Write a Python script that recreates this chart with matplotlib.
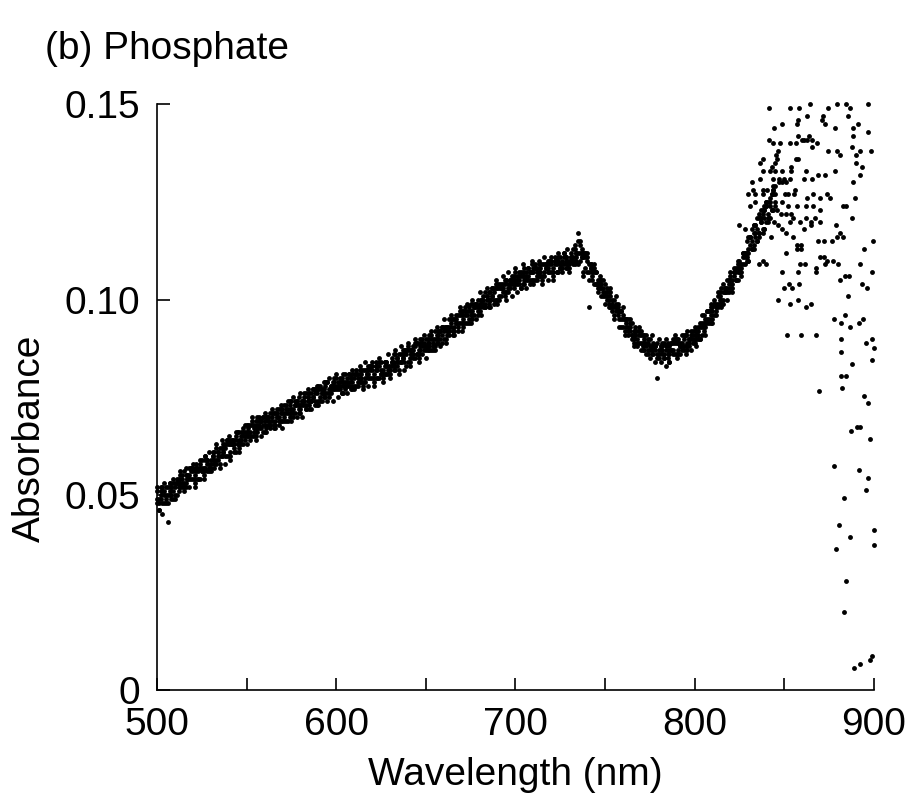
import numpy as np
import matplotlib
matplotlib.use("Agg")
from matplotlib import pyplot as plt
from matplotlib.ticker import MultipleLocator

# Phosphate absorbance spectrum, four scans
# wavelength grid 500..845 nm, step 1 nm; absorbance in units of 0.001
wl_start = 500
scan_a = [
    49, 46, 49, 52, 50, 48, 52, 51, 50, 53,
    53, 50, 54, 53, 55, 53, 52, 55, 55, 54,
    54, 55, 58, 54, 57, 57, 56, 60, 59, 56,
    57, 60, 59, 59, 61, 62, 60, 61, 63, 63,
    64, 61, 63, 64, 61, 66, 64, 63, 66, 65,
    66, 67, 65, 69, 67, 65, 68, 68, 67, 70,
    69, 67, 70, 69, 71, 68, 68, 71, 70, 69,
    69, 71, 73, 69, 73, 72, 71, 74, 74, 71,
    71, 74, 74, 73, 75, 76, 74, 75, 77, 76,
    78, 75, 76, 77, 75, 79, 77, 76, 78, 78,
    78, 79, 77, 80, 78, 77, 80, 79, 78, 81,
    81, 78, 81, 80, 82, 79, 79, 82, 81, 80,
    80, 81, 84, 80, 83, 82, 81, 84, 84, 81,
    81, 84, 84, 83, 85, 86, 84, 85, 87, 86,
    88, 85, 86, 88, 85, 89, 87, 87, 89, 88,
    88, 89, 88, 91, 89, 88, 91, 90, 90, 93,
    93, 90, 93, 93, 95, 92, 92, 95, 94, 94,
    94, 95, 98, 94, 97, 97, 96, 99, 99, 96,
    97, 100, 99, 99, 101, 102, 100, 101, 103, 103,
    104, 101, 103, 104, 101, 105, 104, 103, 105, 104,
    105, 106, 104, 107, 106, 104, 107, 106, 105, 109,
    108, 105, 108, 107, 109, 106, 106, 109, 108, 107,
    107, 108, 111, 107, 110, 109, 109, 112, 111, 108,
    108, 111, 111, 110, 112, 117, 110, 111, 112, 111,
    111, 107, 108, 108, 104, 107, 105, 103, 104, 102,
    102, 102, 99, 102, 99, 96, 99, 97, 95, 97,
    96, 92, 95, 93, 94, 91, 89, 92, 90, 89,
    89, 89, 91, 86, 89, 88, 87, 89, 88, 85,
    85, 88, 87, 86, 83, 89, 86, 87, 90, 89,
    90, 87, 88, 89, 87, 91, 89, 88, 91, 90,
    90, 92, 90, 94, 93, 92, 95, 95, 95, 98,
    98, 96, 99, 99, 102, 100, 99, 103, 103, 102,
    103, 105, 108, 105, 108, 108, 108, 112, 112, 110,
    110, 116, 115, 114, 119, 121, 117, 120, 123, 123,
    124, 121, 124, 127, 123, 129,
]
scan_b = [
    48, 49, 52, 45, 51, 50, 50, 53, 52, 49,
    50, 53, 53, 52, 54, 56, 53, 54, 57, 56,
    57, 54, 56, 57, 54, 59, 57, 57, 59, 58,
    59, 60, 58, 62, 60, 58, 62, 61, 60, 64,
    63, 60, 64, 63, 65, 63, 62, 65, 65, 64,
    65, 66, 68, 65, 68, 67, 66, 70, 69, 66,
    66, 70, 69, 68, 70, 71, 69, 70, 72, 71,
    72, 70, 71, 72, 70, 74, 72, 71, 74, 73,
    73, 74, 73, 76, 74, 72, 76, 75, 74, 77,
    77, 74, 77, 76, 79, 76, 75, 78, 77, 77,
    77, 78, 80, 76, 79, 79, 78, 81, 80, 77,
    78, 81, 80, 79, 81, 82, 80, 81, 83, 82,
    83, 80, 82, 83, 80, 84, 82, 81, 84, 83,
    83, 84, 83, 86, 84, 82, 86, 85, 84, 87,
    87, 84, 87, 87, 89, 86, 85, 89, 88, 87,
    87, 88, 91, 87, 90, 90, 89, 92, 92, 89,
    90, 93, 92, 92, 94, 95, 93, 94, 96, 96,
    97, 94, 96, 97, 94, 99, 97, 96, 99, 98,
    99, 100, 98, 102, 100, 98, 102, 101, 100, 104,
    103, 100, 104, 103, 105, 102, 102, 105, 104, 103,
    104, 105, 107, 103, 107, 106, 105, 108, 107, 105,
    105, 108, 107, 106, 108, 109, 107, 108, 110, 109,
    110, 107, 109, 110, 107, 111, 110, 109, 111, 110,
    110, 111, 110, 113, 111, 115, 112, 111, 106, 112,
    110, 98, 109, 107, 108, 104, 103, 105, 103, 101,
    101, 101, 102, 98, 100, 98, 97, 99, 97, 93,
    93, 95, 94, 92, 93, 94, 90, 91, 92, 91,
    92, 88, 89, 89, 86, 90, 88, 86, 88, 80,
    87, 88, 86, 89, 87, 85, 88, 87, 87, 90,
    89, 86, 89, 88, 91, 88, 87, 90, 90, 89,
    89, 91, 93, 90, 94, 94, 93, 97, 97, 94,
    95, 99, 98, 98, 101, 103, 100, 102, 105, 104,
    106, 104, 106, 108, 105, 110, 109, 109, 112, 112,
    113, 116, 113, 119, 117, 115, 121, 120, 118, 124,
    120, 125, 121, 127, 128, 124,
]
scan_c = [
    51, 48, 50, 51, 48, 52, 43, 50, 52, 51,
    52, 53, 52, 55, 53, 52, 55, 54, 54, 57,
    56, 53, 57, 56, 58, 56, 55, 59, 58, 57,
    58, 59, 61, 58, 61, 60, 60, 63, 62, 60,
    60, 63, 63, 62, 64, 66, 63, 64, 67, 66,
    68, 65, 66, 68, 65, 69, 67, 67, 69, 68,
    68, 70, 68, 71, 69, 67, 71, 70, 69, 72,
    71, 69, 72, 71, 74, 71, 70, 73, 73, 72,
    72, 73, 76, 72, 75, 74, 74, 77, 76, 73,
    74, 77, 76, 75, 78, 79, 76, 77, 79, 79,
    80, 77, 78, 79, 76, 81, 79, 78, 80, 79,
    80, 81, 79, 82, 80, 78, 82, 81, 80, 83,
    82, 79, 83, 82, 84, 81, 80, 83, 83, 82,
    82, 83, 86, 82, 85, 84, 84, 87, 86, 83,
    84, 87, 86, 86, 88, 89, 86, 88, 90, 89,
    90, 87, 89, 90, 87, 92, 90, 89, 92, 91,
    92, 93, 91, 95, 93, 91, 95, 94, 93, 97,
    96, 93, 97, 96, 98, 96, 95, 98, 98, 97,
    98, 99, 101, 98, 101, 100, 100, 103, 102, 100,
    100, 103, 103, 102, 104, 105, 103, 104, 106, 105,
    107, 104, 105, 106, 104, 108, 106, 105, 107, 107,
    107, 108, 106, 109, 107, 105, 109, 108, 107, 110,
    109, 106, 110, 109, 111, 108, 108, 111, 110, 109,
    109, 110, 113, 109, 112, 112, 115, 113, 111, 108,
    107, 109, 108, 106, 107, 107, 104, 104, 105, 103,
    104, 100, 100, 101, 97, 100, 98, 96, 97, 95,
    95, 95, 93, 95, 92, 90, 92, 91, 89, 92,
    91, 87, 90, 88, 90, 87, 86, 88, 87, 86,
    86, 87, 89, 85, 88, 87, 84, 89, 89, 86,
    86, 89, 88, 87, 90, 91, 88, 89, 92, 91,
    92, 90, 91, 93, 91, 96, 94, 94, 97, 96,
    97, 99, 97, 101, 100, 99, 102, 102, 102, 105,
    105, 103, 107, 107, 109, 107, 107, 111, 111, 111,
    112, 114, 118, 113, 119, 118, 117, 123, 122, 118,
    125, 122, 126, 123, 128, 127,
]
scan_d = [
    52, 46, 51, 48, 53, 49, 48, 53, 49, 54,
    49, 54, 51, 56, 52, 51, 57, 55, 52, 57,
    58, 52, 57, 54, 59, 56, 54, 60, 56, 61,
    56, 61, 57, 63, 59, 57, 64, 62, 58, 64,
    65, 59, 64, 61, 66, 63, 61, 66, 63, 68,
    63, 68, 64, 70, 66, 64, 70, 69, 65, 70,
    71, 66, 70, 67, 72, 68, 67, 72, 68, 73,
    67, 73, 69, 74, 71, 69, 75, 73, 70, 75,
    76, 70, 75, 72, 77, 73, 72, 77, 73, 78,
    73, 78, 74, 79, 76, 74, 80, 78, 74, 80,
    81, 75, 79, 76, 81, 78, 76, 81, 77, 82,
    77, 82, 78, 83, 79, 77, 84, 82, 78, 83,
    84, 78, 83, 80, 85, 81, 79, 84, 81, 86,
    80, 85, 82, 87, 83, 81, 88, 86, 82, 87,
    89, 83, 87, 85, 90, 86, 84, 90, 86, 91,
    85, 90, 87, 92, 88, 87, 93, 91, 88, 93,
    95, 89, 93, 91, 96, 92, 91, 96, 92, 98,
    92, 97, 94, 99, 95, 94, 100, 98, 95, 100,
    102, 96, 100, 98, 103, 99, 98, 103, 99, 105,
    99, 104, 101, 106, 102, 100, 107, 105, 101, 106,
    108, 102, 106, 103, 109, 105, 103, 108, 104, 110,
    104, 109, 105, 110, 106, 104, 111, 109, 105, 110,
    111, 105, 110, 107, 112, 108, 107, 112, 108, 113,
    107, 112, 109, 114, 110, 109, 114, 112, 107, 112,
    112, 105, 109, 105, 109, 104, 102, 106, 101, 105,
    99, 103, 98, 103, 98, 95, 101, 98, 93, 97,
    98, 91, 95, 91, 95, 91, 88, 93, 88, 93,
    87, 91, 87, 91, 87, 85, 91, 88, 84, 89,
    90, 84, 88, 85, 90, 86, 84, 89, 86, 91,
    85, 90, 86, 91, 88, 86, 92, 90, 87, 92,
    93, 88, 92, 90, 96, 93, 91, 97, 94, 99,
    94, 100, 96, 102, 99, 98, 104, 103, 100, 105,
    107, 102, 107, 105, 110, 107, 106, 112, 109, 115,
    110, 116, 113, 119, 116, 115, 122, 121, 117, 123,
    125, 120, 125, 123, 129, 125,
]

# noisy tail (detector limit), individual points
tail_wl = [
    841.6, 853.5, 858.4, 864.7, 874.2, 879.5, 884.4, 886.6, 896.6,
    871.7, 872.8, 871.0, 857.6, 857.0, 862.8, 885.7,
    848.7, 844.6, 878.4, 891.4, 888.4, 896.7, 888.5,
    858.0, 861.0, 864.0, 865.7, 863.0, 860.0,
    841.6, 843.5, 847.6, 853.5, 856.5, 868.4, 865.7, 887.8,
    874.3, 879.5, 881.0, 892.3, 890.3, 898.7, 846.8, 845.3,
    836.6, 838.0, 843.0, 845.0, 846.0, 856.8, 857.5, 853.9, 854.0,
    838.0, 842.0, 845.0, 848.7, 862.4, 878.4, 890.3, 893.6, 892.2,
    869.0, 872.8, 861.3, 865.4, 888.4,
    844.0, 847.0, 850.0, 853.0, 832.3, 836.4, 847.0, 849.0, 851.0,
    856.0, 855.5, 832.7, 838.0, 840.3, 830.0, 834.0, 838.0, 843.8, 850.6, 852.0,
    862.7, 866.0, 870.0, 874.0, 875.5, 889.5,
    831.0, 834.0, 840.0, 846.0, 849.0, 852.0,
    857.0, 862.0, 866.0, 870.0, 884.7, 882.9, 887.7,
    848.5, 851.0, 854.0, 836.8, 839.0, 841.8, 844.6, 846.5, 848.6,
    853.0, 855.0, 859.0, 862.0, 865.0, 867.0, 870.0,
    879.0, 881.0, 883.0, 879.5,
    825.0, 828.0, 830.0, 833.0, 836.0, 839.0, 842.5,
    851.0, 855.0, 861.0, 865.0,
    857.2, 857.2, 859.4, 859.4,
    868.8, 872.5, 876.6,
    851.3, 869.8, 872.0, 874.0, 877.0, 880.3, 894.4, 899.6,
    836.0, 838.0, 840.0, 859.0, 861.7, 868.0, 872.8, 892.5,
    848.7, 857.6, 868.0, 898.9,
    881.0, 884.0, 886.0, 893.4,
    852.7, 849.8, 854.3, 858.3, 896.0,
    846.8, 853.0, 858.0, 862.0, 865.0, 885.5,
    878.0, 882.0, 884.0, 887.0, 892.0, 894.0,
    851.5, 859.3, 867.6, 881.6, 895.5, 898.9, 900.0,
    881.6, 887.7, 899.0, 881.6, 884.4, 869.3, 882.2, 894.4, 896.7,
    890.5, 892.6, 887.1, 897.8, 877.7, 891.6, 896.7, 895.5, 883.3,
    880.5, 900.0, 886.6, 878.8, 900.0, 884.4, 883.3, 888.8, 892.2, 897.8, 898.9,
]
tail_abs = [
    149, 149, 149, 150, 149, 150, 150, 149, 150,
    147, 145, 146, 146, 145, 147, 147,
    145, 144, 144, 145, 144, 143, 142,
    142, 141, 142, 141, 141, 141,
    141, 140, 140, 140, 140, 140, 139, 139,
    138, 138, 137, 138, 137, 138, 138, 137,
    135, 136, 134, 135, 136, 136, 136, 134, 133,
    133, 133, 133, 133, 133, 133, 135, 134, 132,
    132, 132, 131, 131, 130,
    131, 131, 131, 131, 130, 131, 130, 130, 130,
    128, 127, 128, 128, 128, 127, 127, 127, 127, 127, 127,
    126, 127, 126, 127, 126, 126,
    124, 125, 124, 123, 125, 124,
    124, 124, 124, 123, 124, 124, 121,
    122, 122, 122, 121, 121, 121, 120, 119, 118,
    120, 121, 120, 121, 120, 121, 120,
    119, 117, 116, 116,
    119, 118, 116, 117, 116, 118, 116,
    117, 116, 118, 119,
    114, 113, 114, 113,
    115, 115, 115,
    112, 111, 111, 110, 110, 109, 113, 115,
    109, 110, 109, 109, 109, 108, 109, 109,
    107, 107, 107, 107,
    105, 106, 106, 104,
    104, 103, 103, 104, 103,
    100, 99, 100, 98, 99, 101,
    95, 94, 96, 93, 94, 95,
    91, 91, 91, 90, 89, 90, 87.5,
    86.5, 83.4, 84.5, 80.4, 80.4, 76.5, 77.3, 75.3, 73.5,
    67.3, 67.3, 66.3, 64.2, 57.3, 56.3, 54.3, 51.2, 49.1,
    42.2, 41.0, 39.2, 36.1, 37.1, 27.9, 20.0, 5.6, 6.7, 7.7, 8.7,
]

wl = np.arange(wl_start, wl_start + len(scan_a))

plt.rcParams['font.family'] = ['Liberation Sans', 'DejaVu Sans']
plt.rcParams['font.size'] = 28

fig = plt.figure(figsize=(9.13, 8.09), dpi=100)
ax = fig.add_axes([0.172, 0.147, 0.785, 0.724])

for scan in (scan_a, scan_b, scan_c, scan_d):
    ax.plot(wl, np.array(scan) / 1000.0, 'o', color='black', markersize=3.5,
            markeredgewidth=0, clip_on=False)
ax.plot(tail_wl, np.array(tail_abs) / 1000.0, 'o', color='black', markersize=3.5,
        markeredgewidth=0, clip_on=False)

ax.set_xlim(500, 900)
ax.set_ylim(0, 0.15)
ax.xaxis.set_major_locator(MultipleLocator(100))
ax.xaxis.set_minor_locator(MultipleLocator(50))
ax.set_yticks([0, 0.05, 0.10, 0.15])
ax.set_yticklabels(['0', '0.05', '0.10', '0.15'])

for side in ('top', 'right'):
    ax.spines[side].set_visible(False)
for side in ('left', 'bottom'):
    ax.spines[side].set_linewidth(1.2)

ax.tick_params(axis='both', which='both', direction='in', length=9, width=1.2)
ax.tick_params(axis='x', which='major', pad=12)
ax.tick_params(axis='y', which='major', pad=12)

ax.set_xlabel('Wavelength (nm)', labelpad=10)
ax.set_ylabel('Absorbance')
ax.yaxis.set_label_coords(-0.152, 0.43)

fig.text(0.049, 0.94, '(b) Phosphate', ha='left', va='center', fontsize=28)

fig.savefig('out.png', dpi=100)
